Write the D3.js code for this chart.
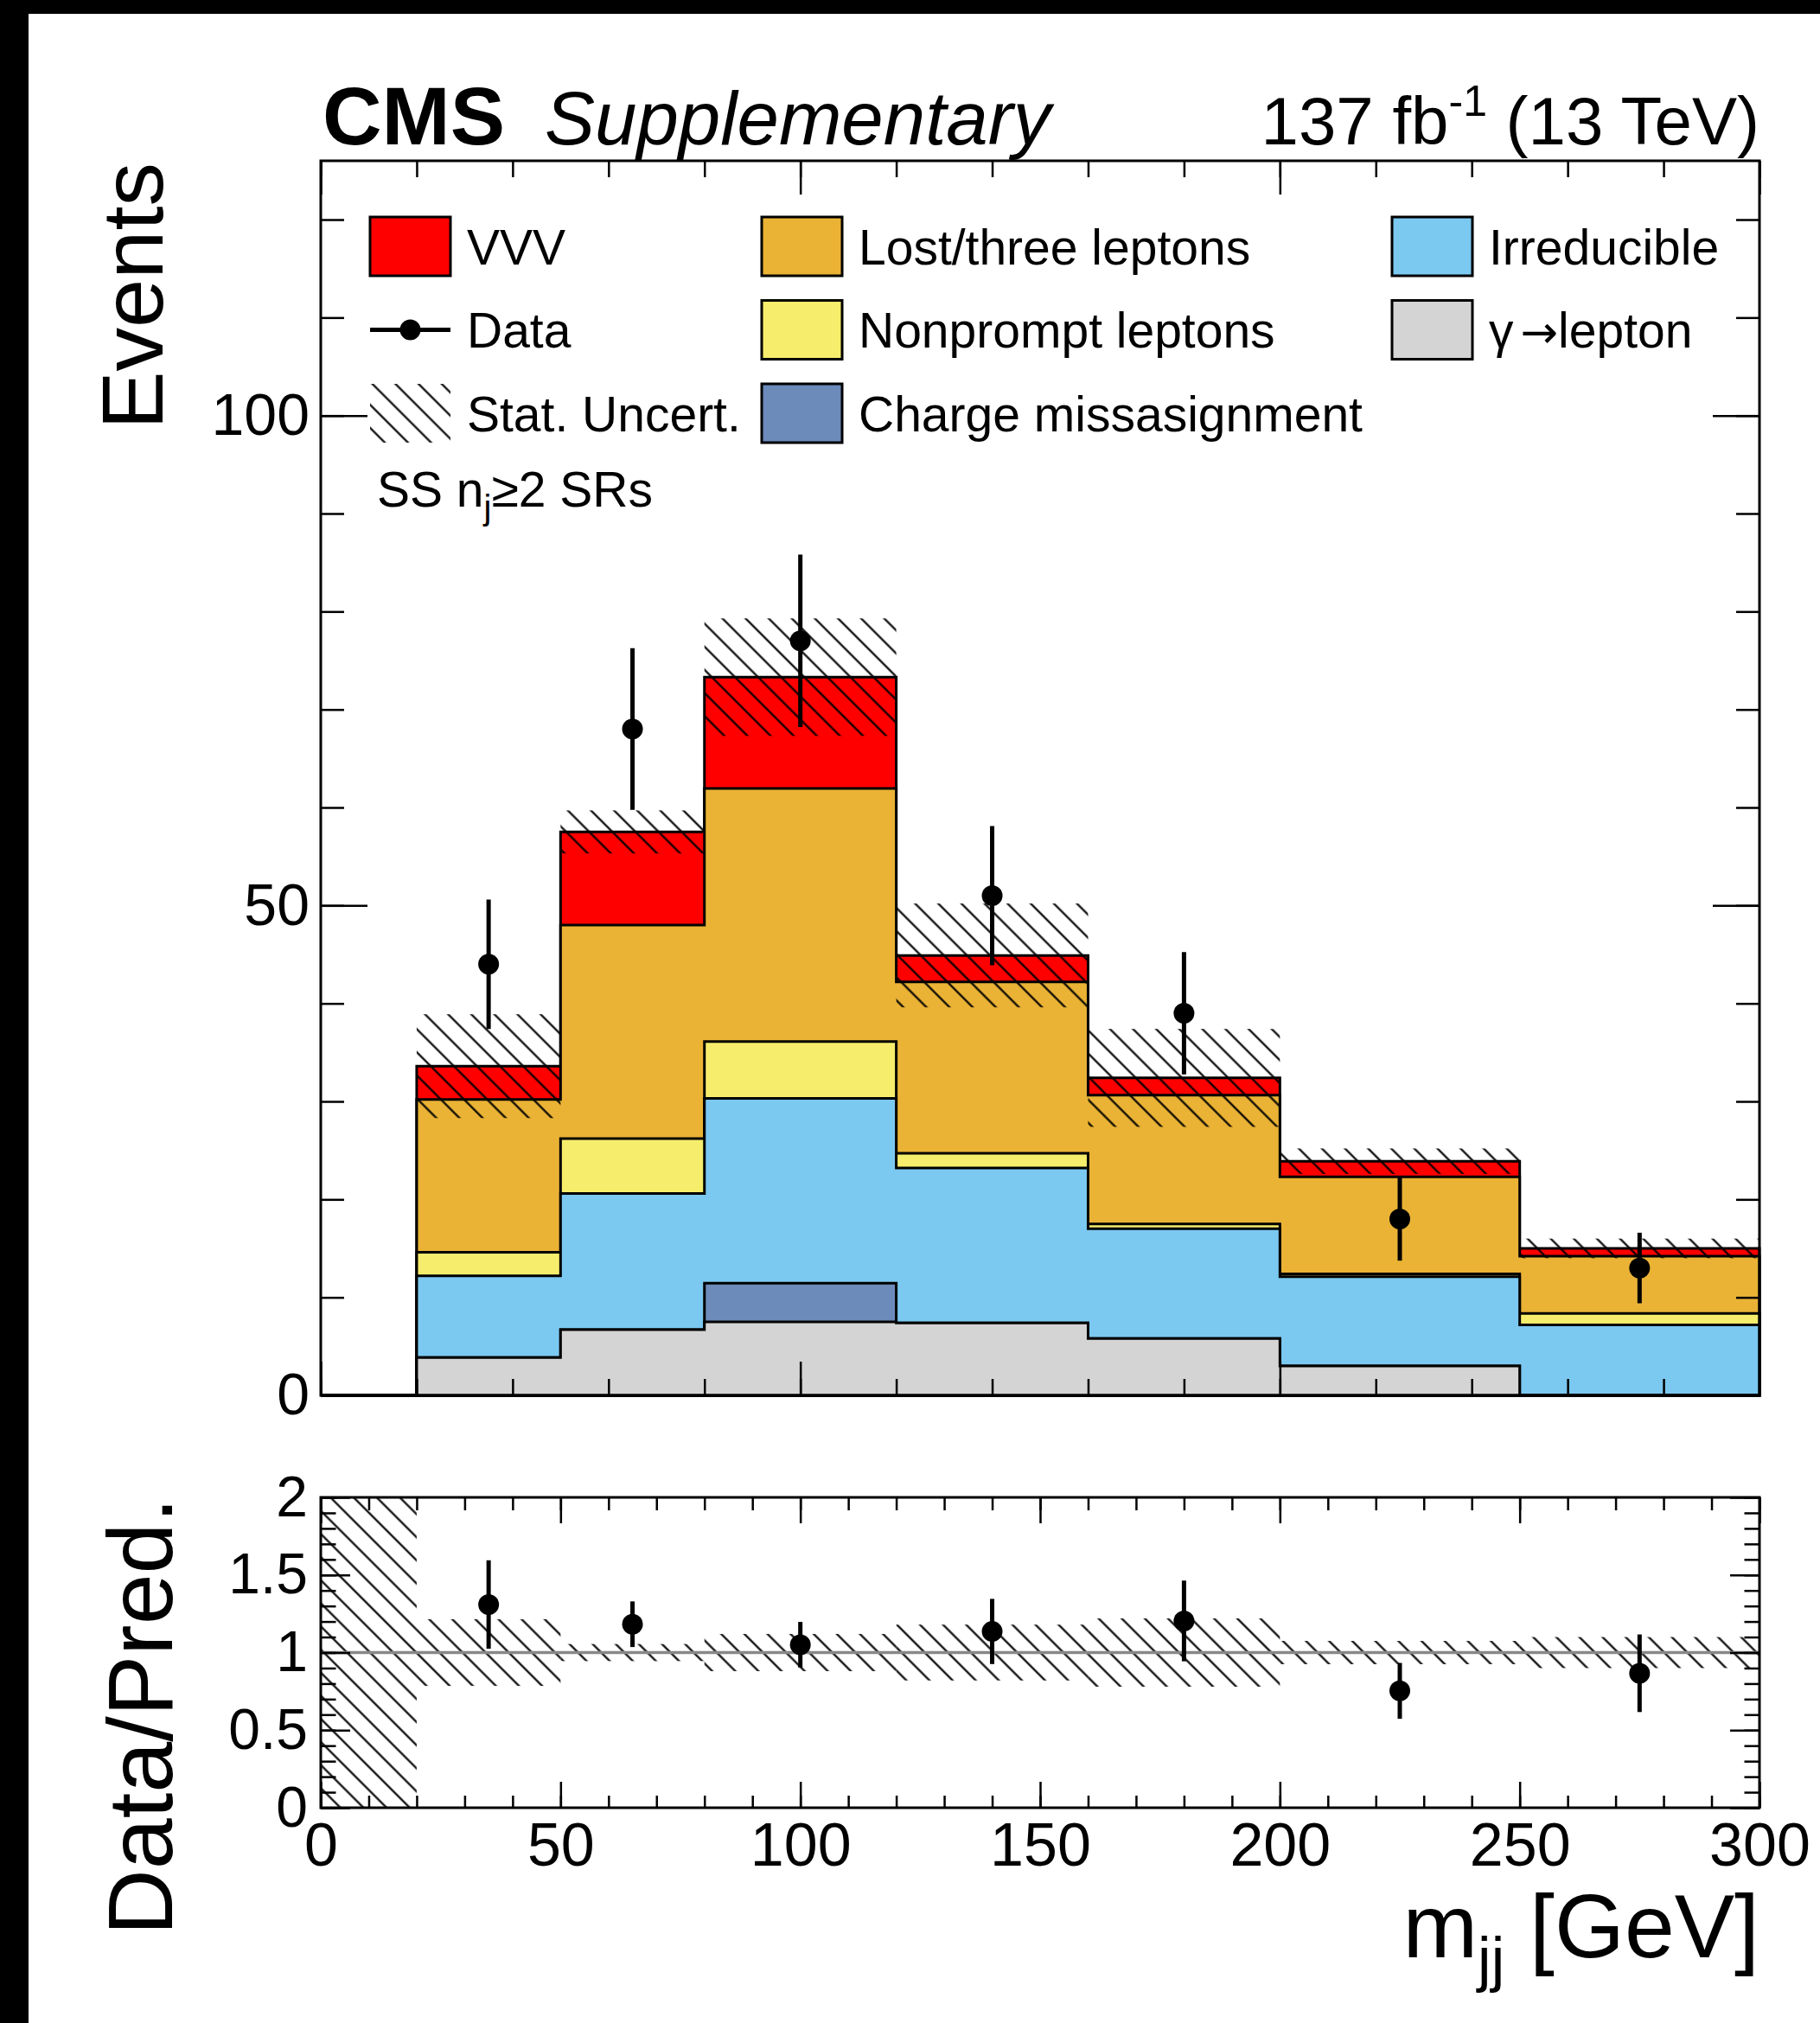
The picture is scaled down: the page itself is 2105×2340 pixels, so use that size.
<!DOCTYPE html>
<html>
<head>
<meta charset="utf-8">
<script src="https://cdn.jsdelivr.net/npm/d3@7"></script>
<style>
  html, body { margin: 0; padding: 0; background: #fff; }
  svg { display: block; }
  text { font-family: "Liberation Sans", Arial, Helvetica, sans-serif; fill: #000; }
</style>
</head>
<body>
<svg id="chart" width="2105" height="2340"></svg>
<script>
// ---- m_jj binning and per-process yields (events per bin) ----
const binEdges    = [0, 20, 50, 80, 120, 160, 200, 250, 300];
const gammaLepton = [0, 3.85, 6.7, 7.5, 7.4, 5.8, 3.0, 0];
const chargeMis   = [0, 0, 0, 3.95, 0, 0, 0, 0];
const irreducible = [0, 8.35, 13.9, 18.85, 15.8, 11.2, 9.1, 7.2];
const nonprompt   = [0, 2.4, 5.6, 5.8, 1.5, 0.5, 0.3, 1.15];
const lostLeptons = [0, 15.6, 21.8, 25.85, 17.5, 13.15, 9.9, 5.85];
const vvv         = [0, 3.4, 9.5, 11.35, 2.7, 1.75, 1.6, 0.8];

// statistical uncertainty on the total prediction (events) and on the ratio
const statUnc  = [0, 5.3, 2.2, 6.0, 5.3, 5.0, 1.3, 1.0];
const ratioUnc = [1, 0.215, 0.055, 0.12, 0.18, 0.22, 0.075, 0.10];

// observed data per bin (null = no entry drawn)
const dataY   = [null, 44, 68, 77, 51, 39, 18, 13];
const dataErr = [null, 6.6, 8.25, 8.8, 7.1, 6.25, 4.25, 3.6];
// uncertainty on data/prediction
const ratioErr = [null, 0.285, 0.147, 0.147, 0.21, 0.26, 0.18, 0.25];

// axis tick labels
const xTickLabels      = [0, 50, 100, 150, 200, 250, 300];
const yMainTickLabels  = [0, 50, 100];
const yRatioTickLabels = [0, 0.5, 1, 1.5, 2];

// stacking order, bottom to top
const layers     = [gammaLepton, chargeMis, irreducible, nonprompt, lostLeptons, vvv];
const layerColor = ["#d4d4d4", "#6c8aba", "#7bc8f0", "#f6ed6c", "#eab335", "#ff0000"];

const svg = d3.select("#chart");
const W = 2105, H = 2340;
svg.append("rect").attr("width", W).attr("height", H).attr("fill", "#fff");
// dark border strips along the top and left edges
svg.append("rect").attr("x", 0).attr("y", 0).attr("width", W).attr("height", 16).attr("fill", "#000");
svg.append("rect").attr("x", 0).attr("y", 0).attr("width", 33).attr("height", H).attr("fill", "#000");

// hatch fill for uncertainty bands
const defs = svg.append("defs");
const hatch = defs.append("pattern")
  .attr("id", "hatch").attr("patternUnits", "userSpaceOnUse")
  .attr("width", 18.9).attr("height", 18.9)
  .attr("patternTransform", "rotate(-45)");
hatch.append("line").attr("x1", 9.45).attr("y1", -2).attr("x2", 9.45).attr("y2", 21)
  .attr("stroke", "#000").attr("stroke-width", 2.2);

// ---- scales ----
const frameL = 371, frameR = 2035;
const mainTop = 186, mainBot = 1614;
const ratTop = 1732, ratBot = 2091;
const x = d3.scaleLinear().domain([0, 300]).range([frameL, frameR]);
const yMain = d3.scaleLinear().domain([0, 126]).range([mainBot, mainTop]);
const yRatio = d3.scaleLinear().domain([0, 2]).range([ratBot, ratTop]);

const nBins = binEdges.length - 1;
const cumulative = [];
let running = new Array(nBins).fill(0);
layers.forEach(l => {
  running = running.map((v, j) => v + l[j]);
  cumulative.push(running.slice());
});
const total = cumulative[cumulative.length - 1];

const stepPoints = vals => binEdges.map((e, i) => ({ x: e, v: vals[Math.min(i, nBins - 1)] }));
const stepArea = d3.area().curve(d3.curveStepAfter)
  .x(d => x(d.x)).y0(yMain(0)).y1(d => yMain(d.v));

// ---- main panel ----
const gMain = svg.append("g");
for (let k = layers.length - 1; k >= 0; k--) {
  gMain.append("path")
    .attr("d", stepArea(stepPoints(cumulative[k])))
    .attr("fill", layerColor[k])
    .attr("stroke", "#000").attr("stroke-width", 3).attr("stroke-linejoin", "miter");
}

// uncertainty band on total prediction
gMain.append("g").selectAll("rect")
  .data(d3.range(nBins).filter(i => statUnc[i] > 0))
  .join("rect")
  .attr("x", i => x(binEdges[i]))
  .attr("width", i => x(binEdges[i + 1]) - x(binEdges[i]))
  .attr("y", i => yMain(total[i] + statUnc[i]))
  .attr("height", i => yMain(total[i] - statUnc[i]) - yMain(total[i] + statUnc[i]))
  .attr("fill", "url(#hatch)");

// data points
const markerR = 12;
const dataBins = d3.range(nBins).filter(i => dataY[i] !== null);
const centre = i => (binEdges[i] + binEdges[i + 1]) / 2;
const gData = gMain.append("g");
gData.selectAll("line").data(dataBins).join("line")
  .attr("x1", i => x(centre(i))).attr("x2", i => x(centre(i)))
  .attr("y1", i => yMain(dataY[i] - dataErr[i])).attr("y2", i => yMain(dataY[i] + dataErr[i]))
  .attr("stroke", "#000").attr("stroke-width", 5);
gData.selectAll("circle").data(dataBins).join("circle")
  .attr("cx", i => x(centre(i))).attr("cy", i => yMain(dataY[i]))
  .attr("r", markerR).attr("fill", "#000");

// ---- ratio panel ----
const gRat = svg.append("g");
gRat.append("g").selectAll("rect")
  .data(d3.range(nBins))
  .join("rect")
  .attr("x", i => x(binEdges[i]))
  .attr("width", i => x(binEdges[i + 1]) - x(binEdges[i]))
  .attr("y", i => yRatio(1 + ratioUnc[i]))
  .attr("height", i => yRatio(1 - ratioUnc[i]) - yRatio(1 + ratioUnc[i]))
  .attr("fill", "url(#hatch)");
gRat.append("line")
  .attr("x1", x(0)).attr("x2", x(300)).attr("y1", yRatio(1)).attr("y2", yRatio(1))
  .attr("stroke", "#888").attr("stroke-width", 3.5);
const ratio = i => dataY[i] / total[i];
gRat.append("g").selectAll("line").data(dataBins).join("line")
  .attr("x1", i => x(centre(i))).attr("x2", i => x(centre(i)))
  .attr("y1", i => yRatio(ratio(i) - ratioErr[i])).attr("y2", i => yRatio(ratio(i) + ratioErr[i]))
  .attr("stroke", "#000").attr("stroke-width", 5);
gRat.append("g").selectAll("circle").data(dataBins).join("circle")
  .attr("cx", i => x(centre(i))).attr("cy", i => yRatio(ratio(i)))
  .attr("r", markerR).attr("fill", "#000");

// ---- ticks (inward, mirrored on opposite sides) ----
function ticks(axisFn, scale, values, len, tx, ty) {
  const g = svg.append("g").attr("transform", `translate(${tx},${ty})`)
    .call(axisFn(scale).tickValues(values).tickSizeInner(-len).tickSizeOuter(0).tickFormat(""));
  g.select(".domain").remove();
  g.selectAll(".tick line").attr("stroke", "#000").attr("stroke-width", 2.5);
  return g;
}
function mirrorTicks(axisFn, scale, values, len, tx, ty) {
  const g = svg.append("g").attr("transform", `translate(${tx},${ty})`)
    .call(axisFn(scale).tickValues(values).tickSizeInner(len).tickSizeOuter(0).tickFormat(""));
  g.select(".domain").remove();
  g.selectAll(".tick line").attr("stroke", "#000").attr("stroke-width", 2.5);
  return g;
}
// main panel
ticks(d3.axisBottom, x, d3.range(0, 301, 20), 19, 0, mainBot);
ticks(d3.axisBottom, x, [0, 100, 200, 300], 39, 0, mainBot);
mirrorTicks(d3.axisBottom, x, d3.range(0, 301, 20), 19, 0, mainTop);
mirrorTicks(d3.axisBottom, x, [0, 100, 200, 300], 39, 0, mainTop);
ticks(d3.axisLeft, yMain, d3.range(0, 126, 10), 27, frameL, 0);
ticks(d3.axisLeft, yMain, [0, 50, 100], 54, frameL, 0);
mirrorTicks(d3.axisLeft, yMain, d3.range(0, 126, 10), 27, frameR, 0);
mirrorTicks(d3.axisLeft, yMain, [0, 50, 100], 54, frameR, 0);
// ratio panel
ticks(d3.axisBottom, x, d3.range(0, 301, 10), 14, 0, ratBot);
ticks(d3.axisBottom, x, d3.range(0, 301, 50), 30, 0, ratBot);
mirrorTicks(d3.axisBottom, x, d3.range(0, 301, 10), 15, 0, ratTop);
mirrorTicks(d3.axisBottom, x, d3.range(0, 301, 50), 30, 0, ratTop);
ticks(d3.axisLeft, yRatio, d3.range(0, 21).map(v => v / 10), 17.5, frameL, 0);
ticks(d3.axisLeft, yRatio, [0, 0.5, 1, 1.5, 2], 34, frameL, 0);
mirrorTicks(d3.axisLeft, yRatio, d3.range(0, 21).map(v => v / 10), 17.5, frameR, 0);
mirrorTicks(d3.axisLeft, yRatio, [0, 0.5, 1, 1.5, 2], 34, frameR, 0);

// frames
svg.append("rect").attr("x", frameL).attr("y", mainTop)
  .attr("width", frameR - frameL).attr("height", mainBot - mainTop)
  .attr("fill", "none").attr("stroke", "#000").attr("stroke-width", 3);
svg.append("rect").attr("x", frameL).attr("y", ratTop)
  .attr("width", frameR - frameL).attr("height", ratBot - ratTop)
  .attr("fill", "none").attr("stroke", "#000").attr("stroke-width", 3);

// ---- tick labels ----
function labels(axis, tx, ty, size) {
  const g = svg.append("g").attr("transform", `translate(${tx},${ty})`).call(axis);
  g.select(".domain").remove();
  g.selectAll(".tick line").remove();
  g.selectAll("text").style("font-size", size + "px")
    .style("font-family", '"Liberation Sans", Arial, sans-serif').attr("fill", "#000");
  return g;
}
labels(d3.axisLeft(yMain).tickValues(yMainTickLabels).tickSize(0).tickPadding(13), frameL, 0, 68);
labels(d3.axisLeft(yRatio).tickValues(yRatioTickLabels).tickSize(0).tickPadding(15)
  .tickFormat(d => String(d)), frameL, 0, 66);
labels(d3.axisBottom(x).tickValues(xTickLabels).tickSize(0).tickPadding(17), 0, ratBot, 70);

// ---- axis titles ----
svg.append("text").attr("transform", "translate(188,188) rotate(-90)")
  .attr("text-anchor", "end").style("font-size", "101px").text("Events");
svg.append("text").attr("transform", "translate(199,1732) rotate(-90)")
  .attr("text-anchor", "end").style("font-size", "106px").text("Data/Pred.");
const xt = svg.append("text").attr("x", frameR).attr("y", 2264)
  .attr("text-anchor", "end").style("font-size", "104px");
xt.append("tspan").text("m");
xt.append("tspan").attr("dy", 26).style("font-size", "70px").text("jj");
xt.append("tspan").attr("dy", -26).text(" [GeV]");

// ---- header ----
svg.append("text").attr("x", 373).attr("y", 167)
  .style("font-size", "95px").style("font-weight", "bold").text("CMS");
svg.append("text").attr("x", 630).attr("y", 167)
  .style("font-size", "87px").style("font-style", "italic").text("Supplementary");
const lumi = svg.append("text").attr("x", frameR).attr("y", 167)
  .attr("text-anchor", "end").style("font-size", "78px");
lumi.append("tspan").text("137 fb");
lumi.append("tspan").attr("dy", -33).style("font-size", "50px").text("-1");
lumi.append("tspan").attr("dy", 33).text(" (13 TeV)");

// ---- legend ----
const legend = svg.append("g");
const colX = [428, 881, 1610];
const rowY = [285, 381.5, 478];
const boxW = 93, boxH = 68, txtGap = 112;
function legendText(col, row, str) {
  return legend.append("text").attr("x", colX[col] + txtGap).attr("y", rowY[row] + 20.5)
    .style("font-size", "57px").text(str);
}
function legendBox(col, row, color) {
  legend.append("rect").attr("x", colX[col]).attr("y", rowY[row] - boxH / 2)
    .attr("width", boxW).attr("height", boxH)
    .attr("fill", color).attr("stroke", "#000").attr("stroke-width", 3);
}
legendBox(0, 0, layerColor[5]); legendText(0, 0, "VVV");
legend.append("line").attr("x1", colX[0]).attr("x2", colX[0] + boxW)
  .attr("y1", rowY[1]).attr("y2", rowY[1]).attr("stroke", "#000").attr("stroke-width", 5);
legend.append("circle").attr("cx", colX[0] + boxW / 2).attr("cy", rowY[1]).attr("r", markerR).attr("fill", "#000");
legendText(0, 1, "Data");
legend.append("rect").attr("x", colX[0]).attr("y", rowY[2] - boxH / 2)
  .attr("width", boxW).attr("height", boxH).attr("fill", "url(#hatch)");
legendText(0, 2, "Stat. Uncert.");
legendBox(1, 0, layerColor[4]); legendText(1, 0, "Lost/three leptons");
legendBox(1, 1, layerColor[3]); legendText(1, 1, "Nonprompt leptons");
legendBox(1, 2, layerColor[1]); legendText(1, 2, "Charge missasignment");
legendBox(2, 0, layerColor[2]); legendText(2, 0, "Irreducible");
legendBox(2, 1, layerColor[0]);
const gl = legendText(2, 1, "");
gl.append("tspan").text("γ");
gl.append("tspan").attr("dx", 8).style("font-family", '"DejaVu Sans", sans-serif')
  .style("font-size", "52px").text("→");
gl.append("tspan").text("lepton");

// region label
const reg = svg.append("text").attr("x", 436).attr("y", 586).style("font-size", "57px");
reg.append("tspan").text("SS n");
reg.append("tspan").attr("dy", 15).style("font-size", "40px").text("j");
reg.append("tspan").attr("dy", -15).text("≥2 SRs");
</script>
</body>
</html>
